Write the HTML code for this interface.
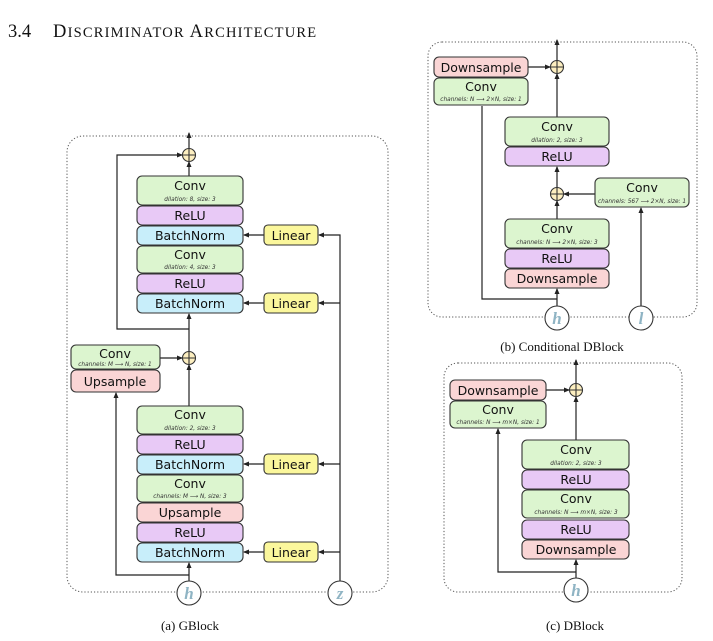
<!DOCTYPE html>
<html><head><meta charset="utf-8"><style>
html,body{margin:0;padding:0;background:#fff;}
svg{display:block;}
.b{stroke:#333;stroke-width:1.1;}
.t{font-family:"DejaVu Sans","Liberation Sans",sans-serif;fill:#111;text-anchor:middle;}
.s{font-family:"DejaVu Sans","Liberation Sans",sans-serif;fill:#333;text-anchor:middle;font-style:italic;font-size:5.8px;}
.cap{font-family:"Liberation Serif",serif;font-size:13px;fill:#111;text-anchor:middle;}
.ln{stroke:#222;stroke-width:1.2;fill:none;}
.dot{stroke:#555;stroke-width:1;fill:none;stroke-dasharray:1.2 2;}
.var{font-family:"Liberation Serif",serif;font-style:italic;font-weight:bold;font-size:17px;fill:#8fb4c4;text-anchor:middle;}
</style></head><body>
<svg width="713" height="641" viewBox="0 0 713 641" xmlns="http://www.w3.org/2000/svg">
<defs><marker id="a" markerWidth="6" markerHeight="6" refX="5" refY="3" orient="auto" markerUnits="userSpaceOnUse"><path d="M0,0.5 L6,3 L0,5.5z" fill="#222"/></marker></defs>
<text x="8" y="37" font-family="Liberation Serif,serif" font-size="18.5" fill="#111">3.4<tspan x="53" letter-spacing="1.2">D</tspan><tspan font-size="14.5" letter-spacing="1.2">ISCRIMINATOR</tspan><tspan letter-spacing="1.2"> A</tspan><tspan font-size="14.5" letter-spacing="1.2">RCHITECTURE</tspan></text>

<!-- GBlock -->
<rect class="dot" x="67" y="136" width="321" height="456" rx="16"/>
<g class="ln">
<path d="M189,149 V133" marker-end="url(#a)"/>
<path d="M189,176 V162" marker-end="url(#a)"/>
<path d="M189,329 H117 V155 H182" marker-end="url(#a)"/>
<path d="M189,352 V314" marker-end="url(#a)"/>
<path d="M160,358 H182" marker-end="url(#a)"/>
<path d="M189,406 V365" marker-end="url(#a)"/>
<path d="M189,581 V563" marker-end="url(#a)"/>
<path d="M189,575 H116 V393" marker-end="url(#a)"/>
<path d="M340,581 V235 H319" marker-end="url(#a)"/>
<path d="M340,303 H319" marker-end="url(#a)"/>
<path d="M340,464 H319" marker-end="url(#a)"/>
<path d="M340,552 H319" marker-end="url(#a)"/>
<path d="M264,235 H244" marker-end="url(#a)"/>
<path d="M264,303 H244" marker-end="url(#a)"/>
<path d="M264,464 H244" marker-end="url(#a)"/>
<path d="M264,552 H244" marker-end="url(#a)"/>
</g>
<g class="b">
<rect x="137" y="176" width="106" height="29" rx="5" fill="#dcf5cf"/>
<rect x="137" y="206" width="106" height="19" rx="5" fill="#e8c9f6"/>
<rect x="137" y="226" width="106" height="19" rx="5" fill="#c8eefa"/>
<rect x="137" y="246" width="106" height="27" rx="5" fill="#dcf5cf"/>
<rect x="137" y="274" width="106" height="19" rx="5" fill="#e8c9f6"/>
<rect x="137" y="294" width="106" height="19" rx="5" fill="#c8eefa"/>
<rect x="71" y="345" width="89" height="24" rx="5" fill="#dcf5cf"/>
<rect x="71" y="370" width="89" height="22" rx="5" fill="#fad5d5"/>
<rect x="137" y="406" width="106" height="28" rx="5" fill="#dcf5cf"/>
<rect x="137" y="435" width="106" height="19" rx="5" fill="#e8c9f6"/>
<rect x="137" y="455" width="106" height="19" rx="5" fill="#c8eefa"/>
<rect x="137" y="475" width="106" height="27" rx="5" fill="#dcf5cf"/>
<rect x="137" y="503" width="106" height="19" rx="5" fill="#fad5d5"/>
<rect x="137" y="523" width="106" height="19" rx="5" fill="#e8c9f6"/>
<rect x="137" y="543" width="106" height="19" rx="5" fill="#c8eefa"/>
<rect x="264" y="225" width="54" height="20" rx="4" fill="#fbf79c"/>
<rect x="264" y="293" width="54" height="20" rx="4" fill="#fbf79c"/>
<rect x="264" y="454" width="54" height="20" rx="4" fill="#fbf79c"/>
<rect x="264" y="542" width="54" height="20" rx="4" fill="#fbf79c"/>
<circle cx="189" cy="155" r="6.5" fill="#fdefc0"/><path d="M182.5,155H195.5M189,148.5V161.5"/>
<circle cx="189" cy="358" r="6.5" fill="#fdefc0"/><path d="M182.5,358H195.5M189,351.5V364.5"/>
<circle cx="189" cy="593" r="12" fill="#fff"/>
<circle cx="340" cy="593" r="12" fill="#fff"/>
</g>
<g class="t" font-size="12.5">
<text x="190" y="190">Conv</text><text class="s" x="190" y="201">dilation: 8, size: 3</text>
<text x="190" y="220">ReLU</text>
<text x="190" y="240">BatchNorm</text>
<text x="190" y="259">Conv</text><text class="s" x="190" y="269">dilation: 4, size: 3</text>
<text x="190" y="288">ReLU</text>
<text x="190" y="308">BatchNorm</text>
<text x="115" y="358">Conv</text><text class="s" x="115" y="366">channels: M ⟶ N, size: 1</text>
<text x="115" y="386">Upsample</text>
<text x="190" y="419">Conv</text><text class="s" x="190" y="430">dilation: 2, size: 3</text>
<text x="190" y="449">ReLU</text>
<text x="190" y="469">BatchNorm</text>
<text x="190" y="488">Conv</text><text class="s" x="190" y="498">channels: M ⟶ N, size: 3</text>
<text x="190" y="517">Upsample</text>
<text x="190" y="537">ReLU</text>
<text x="190" y="557">BatchNorm</text>
<text x="291" y="240">Linear</text>
<text x="291" y="308">Linear</text>
<text x="291" y="469">Linear</text>
<text x="291" y="557">Linear</text>
</g>
<text class="var" x="189" y="599">h</text>
<text class="var" x="340" y="599">z</text>
<text class="cap" x="190" y="630">(a) GBlock</text>

<!-- Conditional DBlock -->
<rect class="dot" x="428" y="42" width="269" height="275" rx="14"/>
<g class="ln">
<path d="M557,61 V40" marker-end="url(#a)"/>
<path d="M528,67 H550" marker-end="url(#a)"/>
<path d="M557,117 V74" marker-end="url(#a)"/>
<path d="M557,188 V167" marker-end="url(#a)"/>
<path d="M557,219 V201" marker-end="url(#a)"/>
<path d="M595,194 H564" marker-end="url(#a)"/>
<path d="M641,306 V208" marker-end="url(#a)"/>
<path d="M557,306 V289" marker-end="url(#a)"/>
<path d="M557,299 H482 V106"/>
</g>
<g class="b">
<rect x="434" y="57" width="94" height="20" rx="5" fill="#fad5d5"/>
<rect x="434" y="78" width="94" height="27" rx="5" fill="#dcf5cf"/>
<rect x="505" y="117" width="104" height="29" rx="5" fill="#dcf5cf"/>
<rect x="505" y="147" width="104" height="19" rx="5" fill="#e8c9f6"/>
<rect x="595" y="178" width="94" height="29" rx="5" fill="#dcf5cf"/>
<rect x="505" y="219" width="104" height="29" rx="5" fill="#dcf5cf"/>
<rect x="505" y="249" width="104" height="19" rx="5" fill="#e8c9f6"/>
<rect x="505" y="269" width="104" height="19" rx="5" fill="#fad5d5"/>
<circle cx="557" cy="67" r="6.5" fill="#fdefc0"/><path d="M550.5,67H563.5M557,60.5V73.5"/>
<circle cx="557" cy="194" r="6.5" fill="#fdefc0"/><path d="M550.5,194H563.5M557,187.5V200.5"/>
<circle cx="557" cy="318" r="12" fill="#fff"/>
<circle cx="641" cy="318" r="12" fill="#fff"/>
</g>
<g class="t" font-size="12.5">
<text x="481" y="72">Downsample</text>
<text x="481" y="91">Conv</text><text class="s" x="481" y="101">channels: N ⟶ 2×N, size: 1</text>
<text x="557" y="131">Conv</text><text class="s" x="557" y="142">dilation: 2, size: 3</text>
<text x="557" y="161">ReLU</text>
<text x="642" y="192">Conv</text><text class="s" x="642" y="203">channels: 567 ⟶ 2×N, size: 1</text>
<text x="557" y="233">Conv</text><text class="s" x="557" y="244">channels: N ⟶ 2×N, size: 3</text>
<text x="557" y="263">ReLU</text>
<text x="557" y="283">Downsample</text>
</g>
<text class="var" x="557" y="324">h</text>
<text class="var" x="641" y="324">l</text>
<text class="cap" x="562" y="351">(b) Conditional DBlock</text>

<!-- DBlock -->
<rect class="dot" x="444" y="363" width="238" height="229" rx="14"/>
<g class="ln">
<path d="M576,384 V360" marker-end="url(#a)"/>
<path d="M546,390 H569" marker-end="url(#a)"/>
<path d="M576,440 V397" marker-end="url(#a)"/>
<path d="M576,578 V560" marker-end="url(#a)"/>
<path d="M576,572 H498 V429" marker-end="url(#a)"/>
</g>
<g class="b">
<rect x="450" y="380" width="96" height="20" rx="5" fill="#fad5d5"/>
<rect x="450" y="401" width="96" height="27" rx="5" fill="#dcf5cf"/>
<rect x="522" y="440" width="107" height="29" rx="5" fill="#dcf5cf"/>
<rect x="522" y="470" width="107" height="19" rx="5" fill="#e8c9f6"/>
<rect x="522" y="490" width="107" height="28" rx="5" fill="#dcf5cf"/>
<rect x="522" y="520" width="107" height="19" rx="5" fill="#e8c9f6"/>
<rect x="522" y="540" width="107" height="19" rx="5" fill="#fad5d5"/>
<circle cx="576" cy="390" r="6.5" fill="#fdefc0"/><path d="M569.5,390H582.5M576,383.5V396.5"/>
<circle cx="576" cy="590" r="12" fill="#fff"/>
</g>
<g class="t" font-size="12.5">
<text x="498" y="395">Downsample</text>
<text x="498" y="414">Conv</text><text class="s" x="498" y="424">channels: N ⟶ m×N, size: 1</text>
<text x="576" y="454">Conv</text><text class="s" x="576" y="465">dilation: 2, size: 3</text>
<text x="576" y="484">ReLU</text>
<text x="576" y="503">Conv</text><text class="s" x="576" y="514">channels: N ⟶ m×N, size: 3</text>
<text x="576" y="534">ReLU</text>
<text x="576" y="554">Downsample</text>
</g>
<text class="var" x="576" y="596">h</text>
<text class="cap" x="575" y="630">(c) DBlock</text>
</svg>
</body></html>
